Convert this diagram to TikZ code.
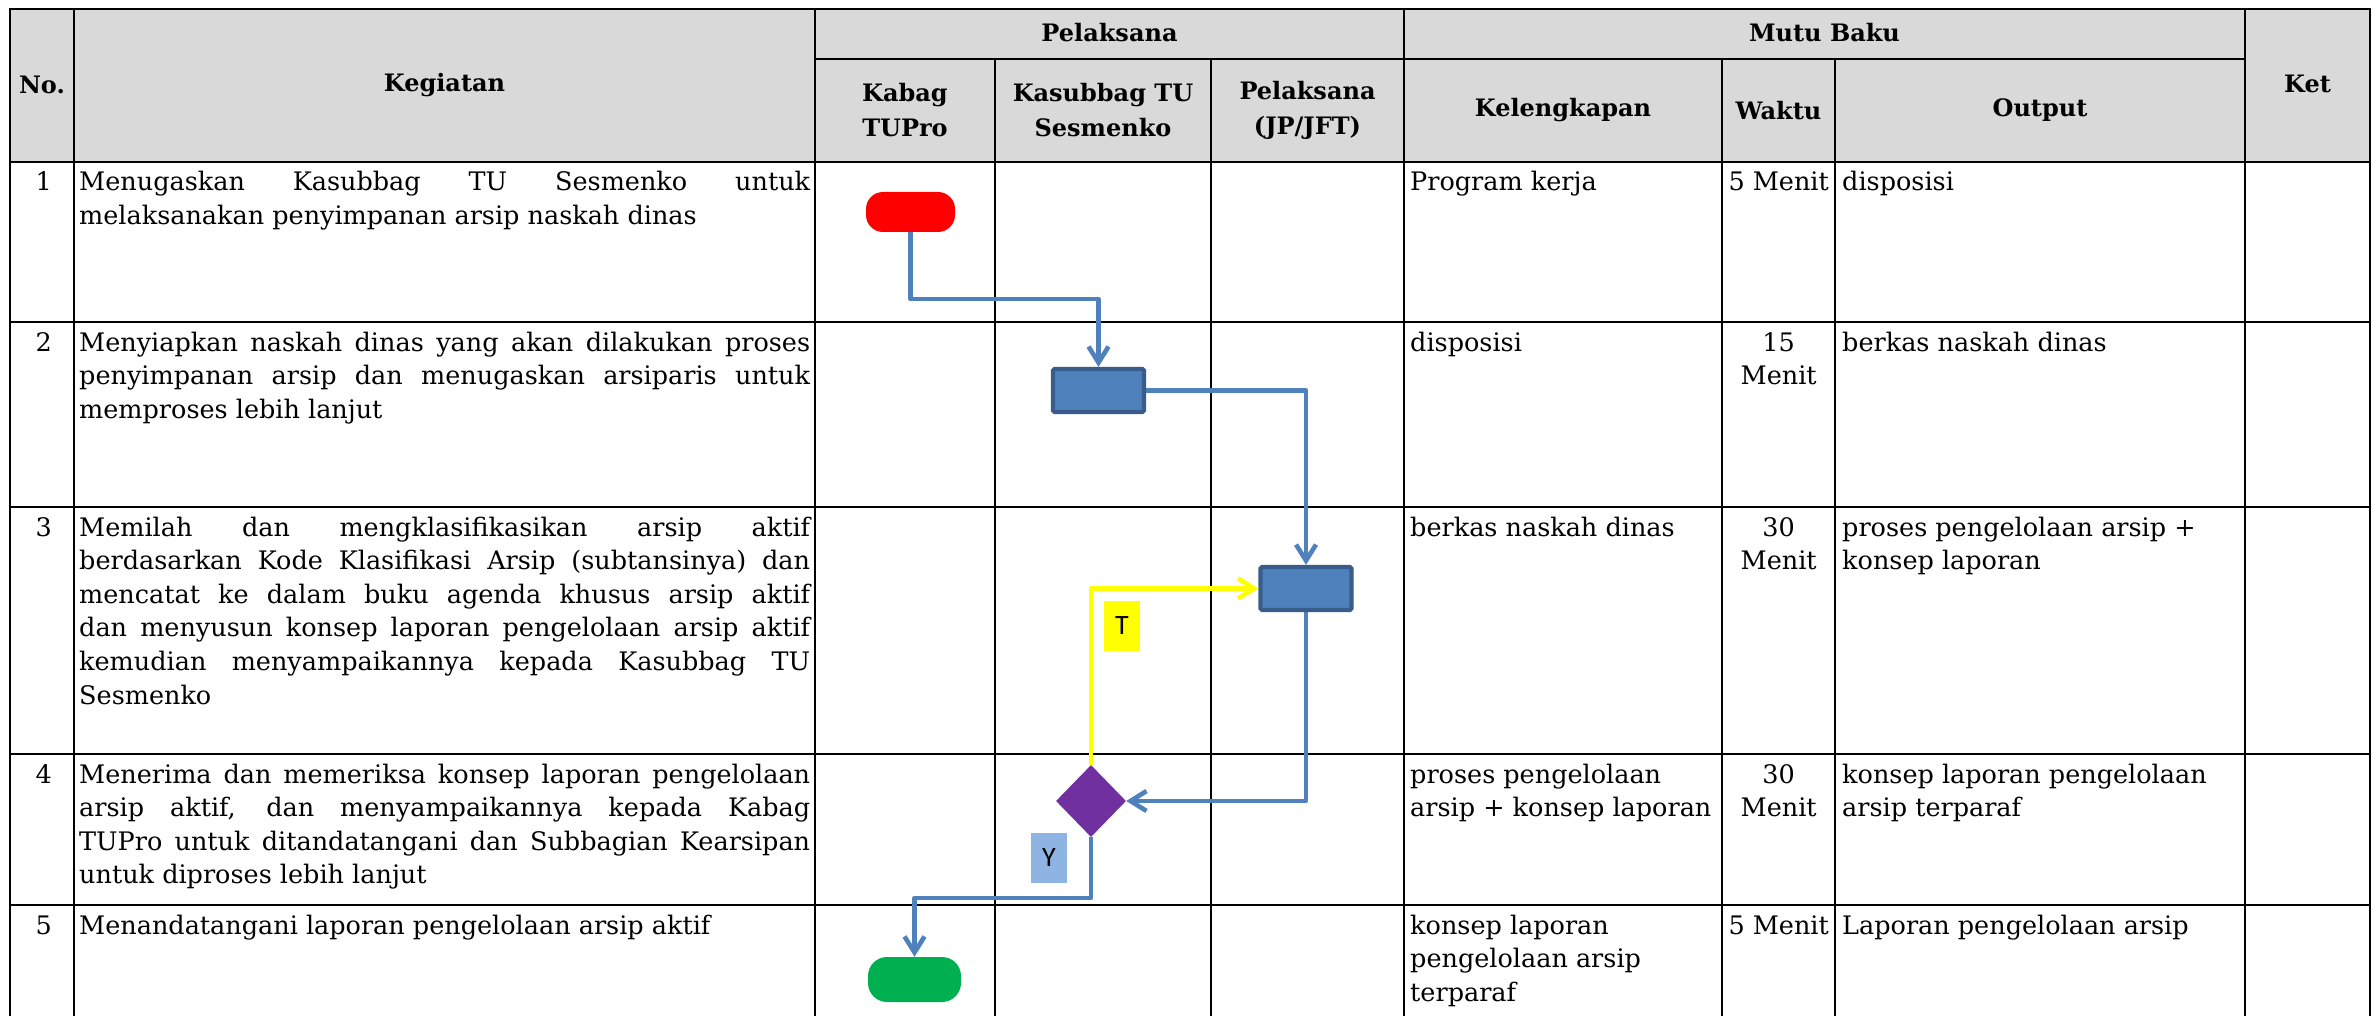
\documentclass[tikz,border=0pt]{standalone}
\usepackage{fontspec}
\setmainfont{DejaVu Serif}
\newfontfamily\lblfont{Carlito}
\usetikzlibrary{arrows.meta,shapes.geometric}
\definecolor{hdrgray}{HTML}{D9D9D9}
\definecolor{flowblue}{HTML}{4F81BD}
\definecolor{flowdark}{HTML}{385D8A}
\definecolor{flowred}{HTML}{FF0000}
\definecolor{flowgreen}{HTML}{00B050}
\definecolor{flowpurple}{HTML}{7030A0}
\definecolor{flowyellow}{HTML}{FFFF00}
\definecolor{lblblue}{HTML}{8EB4E3}
\newcommand{\jl}[1]{\makebox[\linewidth][s]{#1}}
\newcommand{\bodyfont}{\fontsize{25.5pt}{33.6pt}\selectfont}
\newcommand{\hdrfont}{\fontsize{24pt}{35pt}\selectfont\bfseries}
\begin{document}
\begin{tikzpicture}[x=1pt,y=-1pt,
  gridline/.style={line width=2.6pt, black},
  hdrtext/.style={font=\hdrfont, align=center, inner sep=0pt},
  cell/.style={font=\bodyfont, anchor=base west, inner sep=0pt},
  numcell/.style={font=\bodyfont, anchor=base east, inner sep=0pt},
  conn/.style={draw=flowblue, line width=4.6pt, line join=round, -{Straight Barb[length=16pt,width=20pt]}},
  procbox/.style={rectangle, fill=flowblue, draw=flowdark, line width=4.2pt, minimum width=91pt, minimum height=43pt, inner sep=0pt, rounded corners=1.5pt},
  term/.style={rectangle, rounded corners=17pt, minimum width=89pt, minimum height=40pt, inner sep=0pt},
  decision/.style={diamond, fill=flowpurple, minimum width=70pt, minimum height=72pt, inner sep=0pt},
  lbl/.style={font=\lblfont\fontsize{28pt}{30pt}\selectfont, minimum width=36pt, minimum height=50pt, inner sep=0pt}
]
\useasboundingbox (0,0) rectangle (2374,1016);
\fill[white] (0,0) rectangle (2374,1016);

% header background
\fill[hdrgray] (10,9) rectangle (2370,162);

% grid
\draw[gridline] (10,1016) -- (10,9) -- (2370,9) -- (2370,1016);
\draw[gridline] (815,59) -- (2245,59);
\foreach \yy in {162,322,507,754,905} \draw[gridline] (10,\yy) -- (2370,\yy);
\foreach \xx in {74,815,1404,2245} \draw[gridline] (\xx,9) -- (\xx,1016);
\foreach \xx in {995,1211,1722,1835} \draw[gridline] (\xx,59) -- (\xx,1016);

% header texts
\node[hdrtext] (hno) at (42,85) {No.};
\node[hdrtext] (hkeg) at (444.5,85) {Kegiatan};
\node[hdrtext] (hpel) at (1109.5,33) {Pelaksana};
\node[hdrtext] (hmutu) at (1824.5,33) {Mutu Baku};
\node[hdrtext] (hket) at (2307.5,84) {Ket};
\node[hdrtext] (hkabag) at (905,110.5) {Kabag\\TUPro};
\node[hdrtext] (hkasub) at (1103,110.5) {Kasubbag TU\\Sesmenko};
\node[hdrtext] (hpjp) at (1307.5,110.5) {Pelaksana\\(JP/JFT)};
\node[hdrtext] (hkel) at (1563,110.5) {Kelengkapan};
\node[hdrtext] (hwak) at (1778.5,110.5) {Waktu};
\node[hdrtext] (hout) at (2040,110.5) {Output};

% numbers
\node[numcell] (n1) at (52,191) {1};
\node[numcell] (n2) at (52,351) {2};
\node[numcell] (n3) at (52,536) {3};
\node[numcell] (n4) at (52,783) {4};
\node[numcell] (n5) at (52,934) {5};

% kegiatan
\node[cell] (k1) at (79,191) {\parbox[t]{731pt}{\jl{Menugaskan Kasubbag TU Sesmenko untuk}\\melaksanakan penyimpanan arsip naskah dinas}};
\node[cell] (k2) at (79,351) {\parbox[t]{731pt}{\jl{Menyiapkan naskah dinas yang akan dilakukan proses}\\\jl{penyimpanan arsip dan menugaskan arsiparis untuk}\\memproses lebih lanjut}};
\node[cell] (k3) at (79,536) {\parbox[t]{731pt}{\jl{Memilah dan mengklasifikasikan arsip aktif}\\\jl{berdasarkan Kode Klasifikasi Arsip (subtansinya) dan}\\\jl{mencatat ke dalam buku agenda khusus arsip aktif}\\\jl{dan menyusun konsep laporan pengelolaan arsip aktif}\\\jl{kemudian menyampaikannya kepada Kasubbag TU}\\Sesmenko}};
\node[cell] (k4) at (79,783) {\parbox[t]{731pt}{\jl{Menerima dan memeriksa konsep laporan pengelolaan}\\\jl{arsip aktif, dan menyampaikannya kepada Kabag}\\\jl{TUPro untuk ditandatangani dan Subbagian Kearsipan}\\untuk diproses lebih lanjut}};
\node[cell] (k5) at (79,934) {\parbox[t]{731pt}{Menandatangani laporan pengelolaan arsip aktif}};

% kelengkapan
\node[cell] (l1) at (1410,191) {\parbox[t]{308pt}{Program kerja}};
\node[cell] (l2) at (1410,351) {\parbox[t]{308pt}{disposisi}};
\node[cell] (l3) at (1410,536) {\parbox[t]{308pt}{berkas naskah dinas}};
\node[cell] (l4) at (1410,783) {\parbox[t]{308pt}{proses pengelolaan\\arsip + konsep laporan}};
\node[cell] (l5) at (1410,934) {\parbox[t]{308pt}{konsep laporan\\pengelolaan arsip\\terparaf}};

% waktu
\node[cell] (w1) at (1722,191) {\parbox[t]{113pt}{\centering 5 Menit}};
\node[cell] (w2) at (1722,351) {\parbox[t]{113pt}{\centering 15\\Menit}};
\node[cell] (w3) at (1722,536) {\parbox[t]{113pt}{\centering 30\\Menit}};
\node[cell] (w4) at (1722,783) {\parbox[t]{113pt}{\centering 30\\Menit}};
\node[cell] (w5) at (1722,934) {\parbox[t]{113pt}{\centering 5 Menit}};

% output
\node[cell] (o1) at (1842,191) {\parbox[t]{400pt}{disposisi}};
\node[cell] (o2) at (1842,351) {\parbox[t]{400pt}{berkas naskah dinas}};
\node[cell] (o3) at (1842,536) {\parbox[t]{400pt}{proses pengelolaan arsip +\\konsep laporan}};
\node[cell] (o4) at (1842,783) {\parbox[t]{400pt}{konsep laporan pengelolaan\\arsip terparaf}};
\node[cell] (o5) at (1842,934) {\parbox[t]{400pt}{Laporan pengelolaan arsip}};

% flow shapes
\node[term, fill=flowred] (start) at (910.5,212) {};
\node[procbox] (p2) at (1098.5,390.5) {};
\node[procbox] (p3) at (1306,588.5) {};
\node[decision] (dec) at (1091,801) {};
\node[term, fill=flowgreen, minimum width=93pt, minimum height=45pt, rounded corners=19pt] (finish) at (914.5,979.5) {};
\node[lbl, fill=flowyellow] (tl) at (1122,626) {T};
\node[lbl, fill=lblblue] (yl) at (1049,858) {Y};

\coordinate (b1) at (1098.5,299);
\coordinate (b2) at (914.5,898);

% connectors
\draw[conn] (start.south) |- (b1) -- (p2.north);
\draw[conn] (p2.east) -| (p3.north);
\draw[conn] (p3.south) |- (dec.east);
\draw[conn, draw=flowyellow] (dec.north) |- (p3.west);
\draw[conn] (dec.south) |- (b2) -- (finish.north);
\end{tikzpicture}
\end{document}
